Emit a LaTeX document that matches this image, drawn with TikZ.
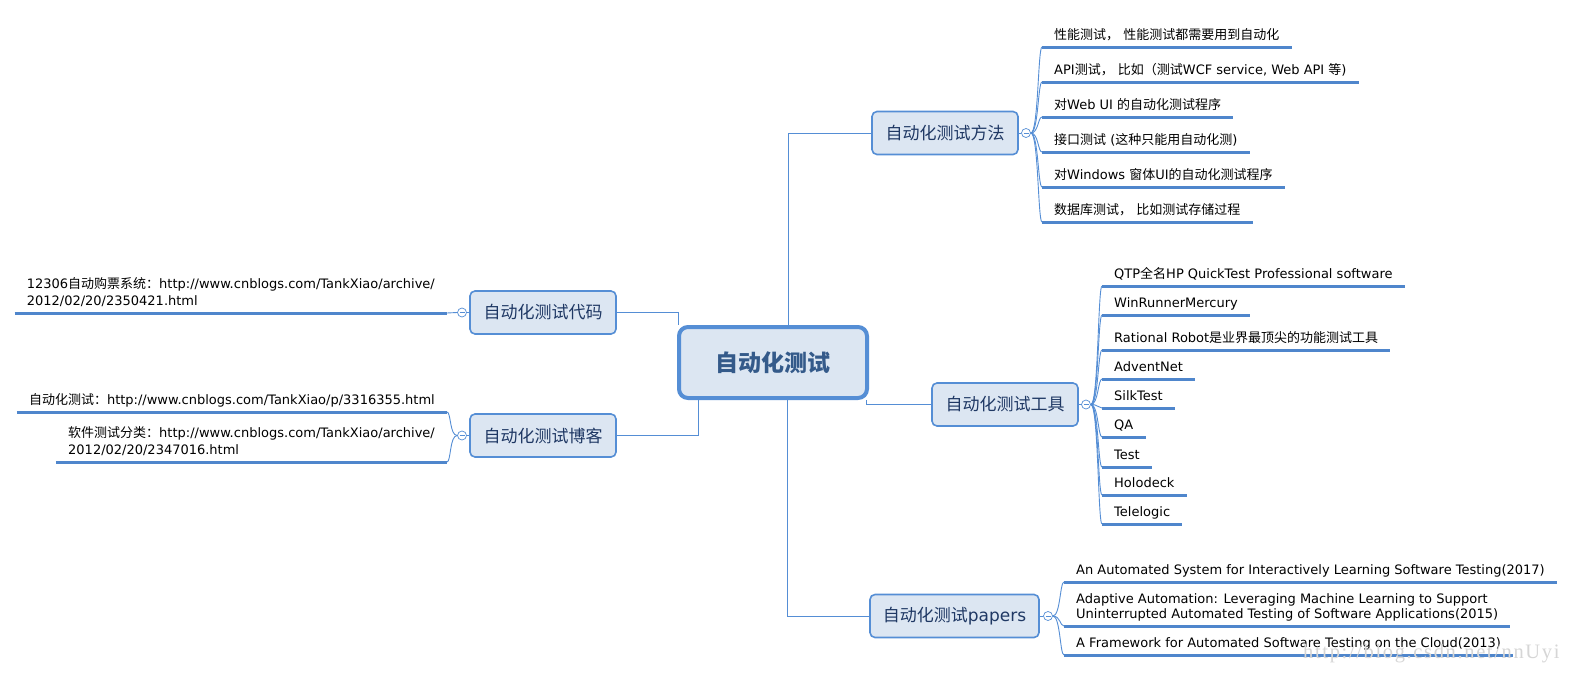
\documentclass[tikz,border=0pt]{standalone}
\usepackage{fontspec}
\setmainfont{DejaVu Sans}
\newfontfamily\cjk{Noto Sans CJK SC}
\newfontfamily\wmfont[LetterSpace=8]{Liberation Serif}
\newcommand{\C}[1]{{\cjk #1}}
\definecolor{linecol}{HTML}{558ED5}
\definecolor{ulcol}{HTML}{4F86CC}
\definecolor{boxfill}{HTML}{DCE6F2}
\definecolor{branchtxt}{HTML}{1F3864}
\definecolor{centertxt}{HTML}{345A8A}
\definecolor{wmcol}{HTML}{D6D6D6}
\tikzset{
  ctrbox/.style={draw=linecol, line width=4pt, fill=boxfill, rounded corners=9pt,
    minimum width=188pt, minimum height=71pt, inner sep=0pt,
    font=\fontsize{23pt}{26pt}\selectfont\cjk\bfseries, text=centertxt},
  brbox/.style={draw=linecol, line width=1.6pt, fill=boxfill, rounded corners=5pt,
    minimum width=146pt, minimum height=43pt, inner sep=0pt,
    font=\fontsize{17pt}{20pt}\selectfont, text=branchtxt},
  circ/.style={circle, draw=linecol, line width=0.7pt, fill=white, minimum size=9pt, inner sep=0pt,
    path picture={\draw[linecol, line width=0.7pt]
      ([xshift=-2.5pt]path picture bounding box.center) -- ([xshift=2.5pt]path picture bounding box.center);}},
  leaf/.style={inner xsep=12pt, inner ysep=4.2pt, text depth=3.5pt, align=left,
    font=\fontsize{13pt}{17pt}\selectfont, text=black},
  leafR/.style={leaf, anchor=south west},
  leafL/.style={leaf, anchor=south east},
  conn/.style={draw=linecol, line width=1pt},
  curv/.style={draw=linecol, line width=0.9pt},
  uline/.style={draw=ulcol, line width=3pt},
}
\begin{document}
\begin{tikzpicture}[x=1pt, y=-1pt]
\useasboundingbox[fill=white] (0,0) rectangle (1574,672);

% center and branches
\node[ctrbox] (ctr) at (773,362.5) {自动化测试};
\node[brbox] (cm) at (945,133) {\C{自动化测试方法}};
\node[brbox] (ct) at (1005,404.5) {\C{自动化测试工具}};
\node[brbox, minimum width=169pt] (cp) at (954.5,616) {\C{自动化测试}papers};
\node[brbox] (cc) at (543,312.5) {\C{自动化测试代码}};
\node[brbox] (cb) at (543,435.5) {\C{自动化测试博客}};

% center connectors
\draw[conn] ([xshift=15pt]ctr.north) |- (cm.west);
\draw[conn] ([xshift=-3pt]ctr.south east) |- (ct.west);
\draw[conn] ([xshift=14pt]ctr.south) |- (cp.west);
\draw[conn] (cc.east) -| ([xshift=1pt]ctr.north west);
\draw[conn] (cb.east) -| ([xshift=-75pt]ctr.south);

% collapse circles
\node[circ] (om) at (1026,133) {};
\node[circ] (ot) at (1086,404.5) {};
\node[circ] (op) at (1048,616) {};
\node[circ] (oc) at (462,312.5) {};
\node[circ] (ob) at (462,435.5) {};
\draw[conn] (cm.east) -- (om.west);
\draw[conn] (ct.east) -- (ot.west);
\draw[conn] (cp.east) -- (op.west);
\draw[conn] (cc.west) -- (oc.east);
\draw[conn] (cb.west) -- (ob.east);

% method leaves
\node[leafR] (m1) at (1042,47) {\C{性能测试，} \C{性能测试都需要用到自动化}};
\node[leafR] (m2) at (1042,82) {API\C{测试，} \C{比如（测试}WCF service, Web API \C{等})};
\node[leafR] (m3) at (1042,117) {\C{对}Web UI \C{的自动化测试程序}};
\node[leafR] (m4) at (1042,152) {\C{接口测试} (\C{这种只能用自动化测})};
\node[leafR] (m5) at (1042,187) {\C{对}Windows \C{窗体}UI\C{的自动化测试程序}};
\node[leafR] (m6) at (1042,222) {\C{数据库测试，} \C{比如测试存储过程}};
\foreach \n in {m1,m2,m3,m4,m5,m6}{
  \draw[curv] (om.east) .. controls +(7.5,0) and +(-4,0) .. (\n.south west);
  \draw[uline] (\n.south west) -- (\n.south east);
}

% tool leaves
\node[leafR] (t1) at (1102,286) {QTP\C{全名}HP QuickTest Professional software};
\node[leafR] (t2) at (1102,315) {WinRunnerMercury};
\node[leafR] (t3) at (1102,350) {Rational Robot\C{是业界最顶尖的功能测试工具}};
\node[leafR] (t4) at (1102,379) {AdventNet};
\node[leafR] (t5) at (1102,408) {SilkTest};
\node[leafR] (t6) at (1102,437) {QA};
\node[leafR] (t7) at (1102,467) {Test};
\node[leafR] (t8) at (1102,495) {Holodeck};
\node[leafR] (t9) at (1102,524) {Telelogic};
\foreach \n in {t1,t2,t3,t4,t5,t6,t7,t8,t9}{
  \draw[curv] (ot.east) .. controls +(7.5,0) and +(-4,0) .. (\n.south west);
  \draw[uline] (\n.south west) -- (\n.south east);
}

% paper leaves
\node[leafR] (p1) at (1064,582) {An Automated System for Interactively Learning Software Testing(2017)};
\node[leafR, font=\fontsize{13pt}{15pt}\selectfont] (p2) at (1064,626) {Adaptive Automation: Leveraging Machine Learning to Support\\Uninterrupted Automated Testing of Software Applications(2015)};
\node[leafR] (p3) at (1064,655) {A Framework for Automated Software Testing on the Cloud(2013)};
\foreach \n in {p1,p2,p3}{
  \draw[curv] (op.east) .. controls +(7.5,0) and +(-4,0) .. (\n.south west);
  \draw[uline] (\n.south west) -- (\n.south east);
}

% code leaf
\node[leafL] (c1) at (447,313) {12306\C{自动购票系统：}http://www.cnblogs.com/TankXiao/archive/\\2012/02/20/2350421.html};
\draw[curv] (oc.west) -- (c1.south east);
\draw[uline] (c1.south west) -- (c1.south east);

% blog leaves
\node[leafL] (b1) at (447,412) {\C{自动化测试：}http://www.cnblogs.com/TankXiao/p/3316355.html};
\node[leafL] (b2) at (447,462) {\C{软件测试分类：}http://www.cnblogs.com/TankXiao/archive/\\2012/02/20/2347016.html};
\foreach \n in {b1,b2}{
  \draw[curv] (ob.west) .. controls +(-7.5,0) and +(4,0) .. (\n.south east);
  \draw[uline] (\n.south west) -- (\n.south east);
}

% watermark
\node[anchor=base west, inner sep=0pt, text=wmcol, font=\fontsize{20.5pt}{22pt}\selectfont\wmfont] (wm) at (1303,658) {http://blog.csdn.net/nnUyi};
\end{tikzpicture}
\end{document}
